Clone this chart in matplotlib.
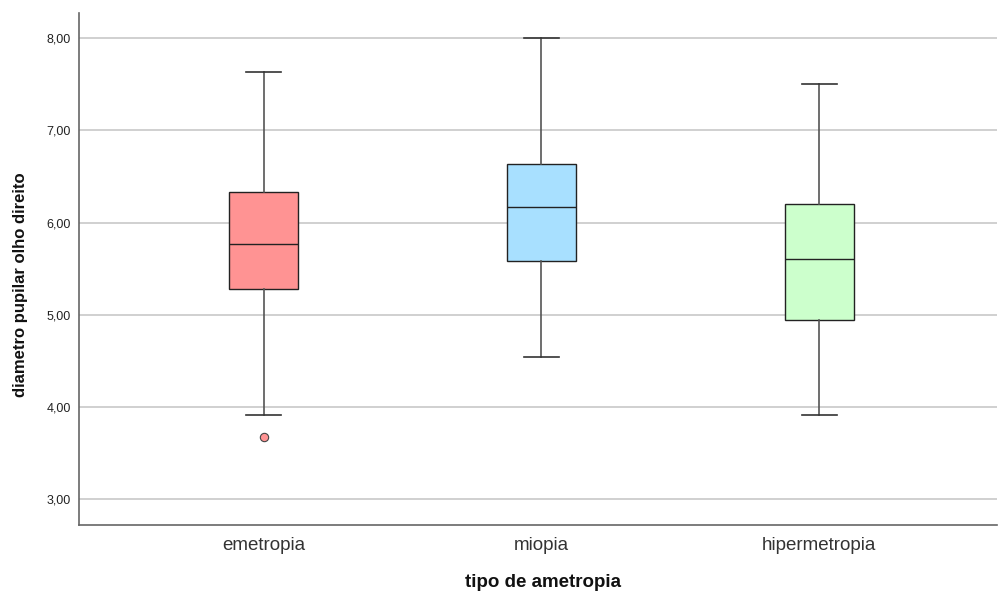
import matplotlib
matplotlib.use('Agg')
import matplotlib.pyplot as plt
from matplotlib.ticker import FuncFormatter

plt.rcParams['font.family'] = ['Liberation Sans', 'DejaVu Sans']

categorias = ['emetropia', 'miopia', 'hipermetropia']
whisker_lo = [3.91, 4.54, 3.91]
q1 = [5.28, 5.58, 4.94]
medianas = [5.77, 6.17, 5.60]
q3 = [6.33, 6.63, 6.20]
whisker_hi = [7.63, 8.00, 7.50]
outliers = [[3.68], [], []]
cores = ['#FF9393', '#A8E0FF', '#CCFFCC']

stats = []
for i in range(len(categorias)):
    stats.append({'label': categorias[i], 'whislo': whisker_lo[i], 'q1': q1[i],
                  'med': medianas[i], 'q3': q3[i], 'whishi': whisker_hi[i],
                  'fliers': outliers[i]})

fig = plt.figure(figsize=(9.98, 5.94), dpi=100)
ax = fig.add_axes([0.0792, 0.1162, 0.9198, 0.8620])

for y in [3, 4, 5, 6, 7, 8]:
    ax.axhline(y, color='#C8C8C8', lw=1.2, zorder=0)

bp = ax.bxp(stats, positions=range(3), widths=0.248, patch_artist=True,
            capwidths=0.126,
            boxprops=dict(edgecolor='#222222', lw=1.0),
            medianprops=dict(color='#222222', lw=1.0),
            whiskerprops=dict(color='#555555', lw=1.2),
            capprops=dict(color='#333333', lw=1.2),
            flierprops=dict(marker='o', markersize=6, markeredgecolor='#444444', markeredgewidth=0.8))
for patch, c in zip(bp['boxes'], cores):
    patch.set_facecolor(c)
for fl, c in zip(bp['fliers'], cores):
    fl.set_markerfacecolor(c)

ax.set_xlim(-0.665, 2.64)
ax.set_ylim(2.724, 8.27)
ax.set_yticks([3, 4, 5, 6, 7, 8])
ax.yaxis.set_major_formatter(FuncFormatter(lambda v, p: ('%.2f' % v).replace('.', ',')))
ax.set_xticks(range(3))
ax.set_xticklabels(categorias, fontsize=13.5, color='#333333')
ax.tick_params(axis='y', labelsize=9, length=0, pad=6, labelcolor='#222222')
ax.tick_params(axis='x', length=0, pad=9)
for s in ['top', 'right']:
    ax.spines[s].set_visible(False)
for s in ['left', 'bottom']:
    ax.spines[s].set_color('#666666')
    ax.spines[s].set_linewidth(1.2)

ax.set_xlabel('tipo de ametropia', fontsize=13.5, fontweight='bold', color='#111111')
ax.xaxis.set_label_coords(0.505, -0.095)
ax.set_ylabel('diametro pupilar olho direito', fontsize=12, fontweight='bold', color='#111111')
ax.yaxis.set_label_coords(-0.0555, 0.47)

fig.savefig('out.png', dpi=100)
